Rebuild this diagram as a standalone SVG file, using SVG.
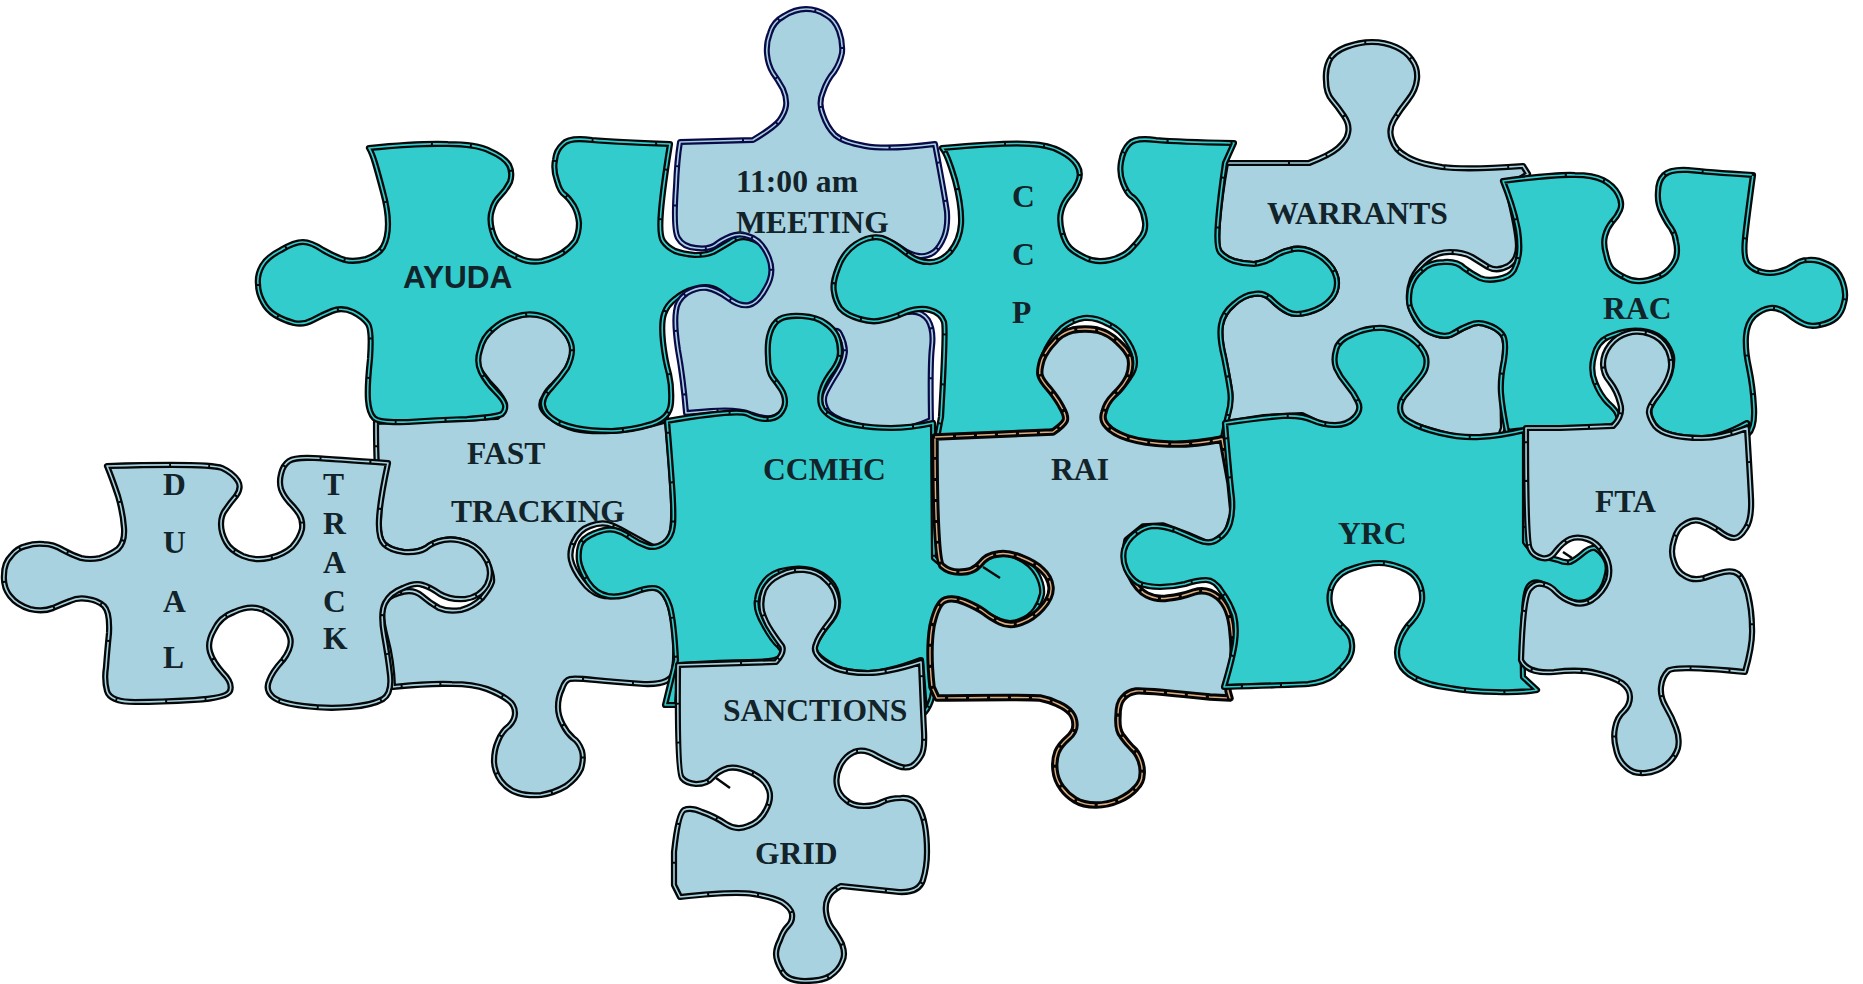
<svg xmlns="http://www.w3.org/2000/svg" width="1863" height="984" viewBox="0 0 1863 984">
<style>
  .shape{stroke-linejoin:round;stroke-linecap:butt}
  .body{stroke:#050808;stroke-width:6.2}
  .core{fill:none;stroke-width:1.6;stroke-dasharray:62 2 37 2 48 2}
  .sky .body{fill:#a8d2e0}
  .sky .core{stroke:#a8d2e0}
  .aqua .body{fill:#33cccc}
  .aqua .core{stroke:#33cccc}
  .navy .body{stroke:#0a0a48;stroke-width:6}
  .tan .body{stroke:#050505;stroke-width:7.4}
  .tan .core{stroke:#dcae80;stroke-width:1.4;stroke-dasharray:18 3}
  .label{font:bold 31.6px "Liberation Serif","Times New Roman",serif;fill:#12232a}
  .sans{font:bold 31.6px "Liberation Sans",Arial,sans-serif}
  .stray{fill:none;stroke:#050808;stroke-width:2.4}
</style>
<defs>
  <path id="shape-fast" d="M376 422L497 417Q506 410 505 404Q503 398 496 390Q488 382 481 372Q474 362 476 356Q478 350 484 338Q490 327 497 323Q503 319 515 316Q526 312 537 314Q547 315 555 322Q563 328 569 338Q574 347 572 355Q570 363 566 370Q561 377 554 384Q547 390 544 397Q540 403 542 408Q544 413 553 419Q561 425 575 429Q588 432 611 431Q633 430 667 420Q672 475 673 502Q674 528 670 537Q665 545 660 547Q655 549 647 544Q638 539 627 533Q615 526 608 524Q600 522 590 526Q579 530 574 541Q569 551 571 560Q573 569 582 581Q590 592 600 595Q609 598 620 595Q630 592 641 589Q651 586 658 589Q665 592 670 607Q674 622 675 639Q676 656 674 671Q672 685 644 684Q615 682 595 680Q575 678 570 679Q565 680 562 689Q558 697 558 707Q558 716 563 725Q567 733 573 738Q579 742 582 751Q584 759 581 769Q577 778 566 786Q554 793 541 795Q527 796 518 793Q508 790 501 781Q494 771 494 761Q494 750 498 741Q502 731 509 726Q515 720 515 713Q515 705 508 700Q500 694 487 689Q473 684 452 684Q431 683 393 687Q392 660 386 638Q380 615 383 606Q385 597 399 593Q413 588 422 596Q430 603 439 608Q448 612 461 610Q473 607 482 598Q490 588 492 582Q493 575 487 562Q480 548 468 543Q455 538 444 540Q433 542 426 548Q418 553 404 552Q390 550 384 544Q378 538 379 519Q380 500 378 482Q376 463 376 422Z"/>
  <path id="shape-dual" d="M107 466Q210 463 222 468Q233 473 238 481Q242 488 236 496Q230 503 226 509Q221 515 221 524Q221 533 226 542Q230 550 243 556Q255 561 269 558Q283 555 292 547Q300 538 302 529Q303 520 299 514Q295 508 289 502Q283 495 281 489Q279 482 281 474Q283 465 289 461Q295 457 314 458Q333 459 388 463Q380 500 379 519Q378 538 384 544Q390 550 404 552Q418 553 426 548Q433 542 444 540Q455 538 468 543Q480 548 487 561Q493 573 487 585Q480 597 465 599Q450 600 440 594Q430 587 423 585Q415 582 403 588Q390 593 385 603Q380 613 384 635Q388 657 390 675Q392 693 383 699Q373 705 350 707Q327 709 304 706Q280 703 273 697Q265 690 269 681Q272 672 283 660Q293 647 290 637Q287 627 277 619Q267 610 257 608Q247 606 234 612Q220 617 214 630Q207 642 210 652Q213 662 223 673Q233 683 230 691Q227 698 194 700Q160 702 135 702Q110 702 107 691Q104 680 106 667Q107 653 109 633Q110 612 104 606Q97 600 88 599Q78 597 70 601Q62 604 53 608Q43 612 30 609Q17 605 10 596Q3 587 4 575Q4 563 11 556Q17 548 26 546Q35 543 44 544Q53 544 63 550Q72 555 81 558Q90 560 100 558Q110 555 118 549Q125 542 124 528Q123 513 118 496Q112 478 107 466Z"/>
  <path id="shape-ayuda" d="M369 148Q419 143 448 144Q476 144 490 151Q504 157 509 165Q513 173 510 182Q506 190 500 196Q494 202 492 210Q489 218 492 230Q495 242 502 248Q508 253 519 258Q529 263 542 261Q554 258 562 253Q570 248 575 241Q579 233 579 223Q578 213 574 206Q569 198 565 195Q560 192 557 181Q553 170 555 160Q556 150 563 144Q569 137 592 140Q615 142 670 144Q663 187 661 211Q659 235 663 241Q667 247 675 251Q683 254 695 255Q706 255 713 252Q720 248 730 242Q740 235 749 238Q758 240 765 247Q772 253 774 263Q776 273 773 283Q769 293 760 300Q751 307 743 306Q735 305 727 298Q719 290 712 288Q704 286 694 289Q683 292 675 299Q667 305 664 314Q661 323 663 342Q665 360 669 374Q672 387 671 403Q670 418 652 424Q633 430 612 431Q590 431 576 428Q561 425 553 419Q544 413 543 405Q542 397 552 387Q561 377 567 368Q572 358 572 350Q572 343 567 335Q561 327 554 322Q547 317 537 315Q526 313 515 317Q503 320 493 329Q483 337 480 350Q476 362 481 372Q486 382 495 391Q504 400 505 405Q506 410 502 414Q497 417 467 419Q436 420 408 422Q379 423 374 418Q369 413 368 400Q367 387 370 359Q372 330 368 324Q363 317 353 312Q342 307 332 311Q322 315 313 320Q304 325 294 323Q283 320 275 315Q267 310 263 302Q258 293 258 284Q257 275 262 266Q267 257 281 250Q294 242 303 242Q311 242 323 250Q335 257 345 260Q354 262 366 259Q378 255 383 247Q388 238 388 224Q388 210 383 192Q378 173 375 163Q372 153 369 148Z"/>
  <path id="shape-meeting" d="M680 142L753 140Q773 128 779 121Q785 113 786 106Q787 98 783 89Q778 80 773 73Q768 65 767 54Q766 43 770 33Q773 22 784 16Q795 9 806 9Q817 9 826 15Q835 20 839 31Q843 42 842 53Q840 63 834 72Q827 80 823 92Q818 103 823 115Q827 127 835 135Q843 142 865 146Q887 150 935 144Q945 197 947 212Q948 227 944 237Q940 247 934 252Q927 257 919 256Q910 255 902 249Q893 242 883 239Q873 235 860 243Q847 250 841 262Q835 273 838 287Q840 300 848 307Q855 313 866 317Q877 320 886 317Q895 313 908 312Q921 310 928 320Q934 330 932 347Q930 363 931 420Q910 430 890 430Q871 430 850 423Q829 417 826 408Q822 400 826 392Q830 384 837 373Q844 362 845 352Q845 343 840 334Q836 325 818 342L800 360L787 406Q779 417 771 418Q764 419 750 414Q737 409 711 411L686 413Q683 377 678 350Q674 323 676 311Q677 300 687 293Q697 287 707 288Q717 290 728 298Q740 307 749 305Q758 303 766 288Q775 273 769 258Q763 243 753 238Q743 233 735 235Q727 237 718 243Q710 250 696 248Q683 247 678 238Q673 230 676 186Q677 160 680 142Z"/>
  <path id="shape-ccmhc" d="M667 421Q737 409 748 414Q758 419 766 419Q775 419 780 414Q785 408 785 402Q785 395 781 389Q777 383 773 378Q768 372 768 357Q767 342 770 333Q773 323 780 319Q787 315 802 316Q817 317 825 323Q833 328 837 336Q840 343 840 352Q840 360 833 370Q825 380 822 389Q819 397 821 405Q823 412 832 417Q840 422 856 425Q872 428 891 428Q910 428 933 423L934 558Q950 572 962 572Q973 572 980 564Q987 555 998 554Q1008 552 1019 558Q1030 563 1037 574Q1043 585 1042 594Q1040 603 1035 610Q1030 617 1020 621Q1010 625 1000 621Q990 617 984 612Q977 607 965 602Q953 597 945 600Q937 603 935 625Q932 647 934 674Q935 700 925 712L921 660Q887 673 868 673Q848 673 835 667Q822 660 817 654Q812 648 818 639Q823 630 831 621Q839 611 838 600Q837 588 830 581Q822 573 811 570Q799 567 786 570Q772 572 765 581Q758 590 757 600Q755 610 764 625Q772 640 779 646Q785 652 781 657Q776 662 749 662Q722 662 680 665L677 705L665 705L676 660Q674 622 670 607Q665 592 658 589Q651 586 635 592Q619 598 608 596Q596 594 588 582Q580 569 579 561Q578 553 580 546Q582 538 595 533Q607 528 615 530Q623 532 631 538Q638 543 647 546Q655 549 664 543Q672 537 673 525Q674 513 672 485Q670 456 667 421Z"/>
  <path id="shape-warrants" d="M1226 163L1309 163Q1330 155 1338 148Q1347 140 1348 133Q1350 125 1344 116Q1338 107 1332 100Q1326 93 1326 81Q1325 70 1329 61Q1333 52 1346 47Q1359 42 1372 42Q1385 42 1396 47Q1407 52 1412 60Q1418 68 1417 79Q1416 90 1408 100Q1400 110 1394 120Q1388 130 1392 140Q1395 150 1406 156Q1416 163 1442 167Q1467 170 1523 166L1528 174L1507 187Q1518 232 1518 246Q1518 260 1508 266Q1497 272 1488 267Q1480 262 1472 257Q1463 252 1450 252Q1437 252 1427 260Q1417 268 1412 279Q1408 290 1409 300Q1410 309 1416 320Q1423 330 1435 334Q1447 338 1454 333Q1462 328 1470 325Q1478 321 1488 325Q1497 328 1502 334Q1507 340 1504 362Q1502 383 1503 428L1500 436L1460 438Q1420 428 1410 423L1400 417L1400 400L1362 410L1347 425L1323 425L1302 415L1264 417L1225 423Q1232 403 1230 390Q1228 377 1224 357Q1219 337 1221 325Q1223 313 1234 304Q1244 295 1254 294Q1264 292 1272 300Q1280 308 1288 312Q1295 316 1309 312Q1323 308 1330 300Q1337 293 1337 283Q1337 273 1329 264Q1321 255 1310 251Q1299 247 1290 250Q1280 252 1272 258Q1264 263 1254 264Q1244 264 1234 261Q1225 258 1220 252Q1216 247 1218 222Q1220 197 1226 163Z"/>
  <path id="shape-rac" d="M1503 181Q1557 174 1575 175Q1593 175 1603 180Q1613 185 1618 194Q1623 203 1620 210Q1617 217 1612 222Q1607 228 1605 236Q1603 244 1606 254Q1608 264 1612 269Q1617 274 1626 278Q1635 283 1648 280Q1660 277 1666 272Q1673 266 1676 258Q1678 250 1676 242Q1675 234 1671 228Q1667 223 1662 213Q1657 203 1658 192Q1658 181 1664 175Q1670 169 1688 170Q1707 172 1753 175Q1747 219 1745 238Q1743 258 1748 264Q1753 270 1762 272Q1770 274 1778 272Q1787 270 1794 265Q1800 260 1808 260Q1817 259 1827 264Q1837 268 1842 280Q1847 293 1844 303Q1842 313 1836 318Q1830 323 1820 325Q1810 327 1804 324Q1797 321 1788 314Q1778 307 1770 308Q1762 309 1754 316Q1747 323 1746 336Q1745 350 1749 368Q1753 387 1754 408Q1755 428 1748 434L1747 423Q1720 438 1702 438Q1683 438 1672 435Q1660 432 1654 424Q1648 415 1650 408Q1653 401 1660 392Q1667 383 1670 374Q1673 364 1672 356Q1670 348 1664 341Q1657 334 1648 332Q1638 330 1629 331Q1620 332 1608 337Q1597 342 1594 356Q1590 370 1595 382Q1600 395 1608 403Q1617 411 1618 416Q1620 421 1616 424Q1613 427 1586 428Q1560 428 1542 429Q1525 430 1507 432Q1502 407 1501 393Q1500 379 1504 360Q1507 340 1502 334Q1497 328 1488 325Q1478 321 1470 325Q1462 328 1454 333Q1447 338 1435 334Q1423 330 1418 322Q1412 313 1410 307Q1408 301 1410 289Q1413 277 1422 270Q1430 262 1444 262Q1457 261 1464 268Q1472 274 1480 278Q1487 281 1498 279Q1510 277 1514 270Q1518 262 1519 253Q1520 244 1518 230Q1515 215 1511 203Q1507 191 1503 181Z"/>
  <path id="shape-ccp" d="M942 148Q1010 142 1030 144Q1049 145 1060 151Q1072 157 1077 165Q1082 173 1078 182Q1075 190 1069 196Q1063 203 1061 212Q1059 220 1062 232Q1065 243 1070 248Q1075 253 1086 258Q1096 263 1110 260Q1123 257 1130 250Q1137 243 1142 236Q1146 230 1145 222Q1144 213 1140 206Q1135 198 1131 196Q1127 193 1123 183Q1119 173 1121 162Q1123 150 1129 144Q1135 137 1156 140Q1178 142 1234 143L1225 163Q1220 197 1218 222Q1216 247 1220 252Q1225 258 1234 261Q1244 264 1254 264Q1264 263 1272 258Q1280 252 1290 250Q1299 247 1310 251Q1321 255 1329 264Q1337 273 1337 283Q1337 293 1330 300Q1323 308 1309 312Q1295 316 1288 312Q1280 308 1272 300Q1264 292 1254 294Q1244 295 1234 304Q1223 313 1221 325Q1219 337 1224 357Q1228 377 1230 390Q1232 403 1228 415Q1225 427 1223 438Q1195 447 1174 446Q1154 445 1138 442Q1123 438 1112 430Q1102 423 1102 415Q1101 407 1112 397Q1123 387 1129 378Q1135 370 1135 362Q1135 353 1128 342Q1121 330 1108 324Q1096 317 1084 318Q1072 320 1062 328Q1053 337 1047 348Q1041 360 1041 370Q1041 380 1050 390Q1058 400 1063 408Q1068 417 1063 425Q1058 433 1032 434Q1006 435 937 438L941 417Q946 330 944 322Q941 313 930 310Q920 307 906 312Q893 318 883 320Q873 323 860 319Q846 315 840 308Q835 300 834 292Q832 283 838 268Q843 253 856 244Q870 235 882 238Q893 242 905 252Q917 262 928 262Q940 263 950 252Q960 240 961 224Q962 207 955 180Q947 153 942 148Z"/>
  <path id="shape-rai" d="M935 437L1053 432Q1063 425 1065 421Q1067 417 1062 408Q1058 400 1050 390Q1041 380 1040 375Q1039 370 1042 360Q1046 350 1054 342Q1061 333 1073 330Q1085 328 1097 330Q1109 333 1118 342Q1127 350 1130 358Q1132 367 1128 377Q1123 387 1114 395Q1106 403 1104 412Q1101 420 1107 426Q1113 433 1128 438Q1144 443 1168 444Q1192 445 1222 439L1230 483L1233 513L1227 533L1210 545L1187 535L1163 526L1143 527L1127 540Q1122 560 1130 575Q1137 590 1147 595Q1157 600 1168 598Q1180 597 1194 592Q1207 588 1218 597Q1230 607 1232 632Q1235 657 1230 671Q1225 685 1230 698L1210 697Q1143 690 1136 691Q1128 692 1123 698Q1118 703 1118 716Q1117 730 1122 736Q1127 743 1132 748Q1137 752 1140 760Q1143 768 1142 775Q1142 782 1136 788Q1130 795 1119 800Q1108 805 1096 805Q1083 805 1075 800Q1067 795 1062 788Q1056 780 1055 770Q1054 760 1057 752Q1060 745 1068 738Q1075 732 1075 725Q1075 718 1071 713Q1067 708 1058 704Q1050 700 1040 698Q1030 697 937 698L932 687Q928 650 932 626Q937 603 945 600Q953 597 965 602Q977 607 984 612Q990 617 1000 622Q1010 627 1022 622Q1033 618 1042 608Q1052 597 1051 587Q1050 577 1042 570Q1035 563 1022 558Q1008 552 998 554Q987 555 980 564Q973 572 962 572Q950 573 942 566Q935 560 935 437Z"/>
  <path id="shape-yrc" d="M1225 423Q1264 417 1283 416Q1302 415 1312 420Q1323 425 1335 425Q1347 425 1354 418Q1362 410 1358 402Q1354 393 1347 385Q1340 377 1336 368Q1333 360 1336 350Q1338 340 1353 334Q1368 327 1384 328Q1399 330 1411 338Q1423 347 1426 357Q1428 367 1422 375Q1416 383 1408 392Q1400 400 1400 408Q1400 417 1410 422Q1420 428 1440 433Q1460 438 1480 437Q1500 436 1525 430L1525 542Q1533 554 1542 556Q1550 558 1558 560Q1565 563 1570 562Q1575 560 1582 554Q1590 547 1595 548Q1600 550 1605 558Q1610 566 1606 578Q1603 591 1593 598Q1583 605 1573 602Q1563 599 1555 592Q1547 585 1540 583Q1533 581 1529 586Q1525 591 1524 612Q1522 632 1523 677L1537 690Q1520 693 1496 692Q1473 692 1450 688Q1427 685 1415 678Q1403 672 1399 662Q1395 653 1399 642Q1403 630 1412 621Q1420 612 1422 601Q1423 590 1418 581Q1413 572 1402 568Q1390 563 1379 563Q1368 563 1354 568Q1340 572 1334 582Q1328 592 1330 604Q1332 617 1342 626Q1352 635 1352 644Q1353 652 1348 660Q1342 668 1334 675Q1325 682 1308 684Q1290 685 1224 687Q1233 657 1235 642Q1237 627 1234 615Q1230 603 1222 592Q1215 580 1206 580Q1197 580 1185 584Q1173 587 1160 587Q1147 587 1138 583Q1130 578 1126 569Q1122 560 1124 550Q1127 540 1135 534Q1143 527 1153 526Q1163 526 1175 530Q1187 535 1198 540Q1210 545 1218 539Q1227 533 1230 523Q1233 513 1232 498Q1230 483 1225 423Z"/>
  <path id="shape-fta" d="M1526 428L1560 428L1613 426Q1624 415 1620 403Q1617 391 1610 382Q1603 374 1603 364Q1603 354 1610 345Q1617 336 1628 333Q1638 330 1650 334Q1662 338 1668 350Q1673 362 1670 372Q1667 383 1658 395Q1648 407 1649 413Q1650 419 1655 426Q1660 432 1672 435Q1683 438 1702 438Q1720 438 1747 428Q1750 477 1751 498Q1752 519 1746 528Q1740 538 1734 538Q1728 538 1718 530Q1707 523 1700 521Q1693 519 1685 524Q1677 528 1674 540Q1670 552 1674 562Q1677 572 1685 576Q1693 581 1704 578Q1715 574 1724 572Q1733 570 1738 574Q1743 577 1748 594Q1752 611 1752 628Q1753 644 1745 672Q1673 665 1668 671Q1662 677 1661 687Q1660 697 1666 707Q1672 717 1676 728Q1680 738 1678 748Q1675 758 1666 765Q1657 772 1645 773Q1633 774 1626 767Q1618 760 1616 749Q1613 738 1615 728Q1617 717 1624 711Q1630 705 1630 697Q1630 689 1622 683Q1613 677 1596 673Q1580 669 1554 672Q1527 674 1521 660Q1523 599 1529 590Q1535 582 1542 584Q1550 585 1556 592Q1563 599 1572 602Q1582 606 1592 600Q1603 593 1608 580Q1612 566 1604 554Q1597 542 1587 539Q1577 536 1570 539Q1563 542 1556 551Q1550 560 1542 558Q1533 556 1530 549Q1526 542 1526 428Z"/>
  <path id="shape-sanctions" d="M678 665L776 662Q785 652 782 646Q778 641 772 632Q765 622 762 611Q760 600 764 590Q768 581 780 575Q791 569 804 570Q818 571 826 580Q835 588 837 600Q839 611 828 624Q818 637 816 644Q813 650 818 656Q822 662 835 668Q848 673 868 673Q887 673 921 662Q923 712 924 731Q925 750 921 756Q917 763 912 766Q906 769 898 766Q890 763 877 756Q864 748 854 752Q845 756 840 766Q835 776 837 786Q839 795 846 800Q852 806 864 806Q875 806 882 802Q890 798 901 798Q912 797 918 806Q923 814 925 826Q927 837 927 852Q927 867 923 880Q919 893 899 892L841 886Q831 891 828 898Q825 904 826 912Q827 921 832 928Q837 934 842 944Q846 955 842 962Q839 970 830 976Q822 981 805 981Q787 981 782 971Q776 961 776 954Q776 948 780 940Q783 931 788 926Q793 921 792 914Q791 908 782 902Q772 897 753 894Q734 891 680 897L674 885L674 852Q678 814 684 810Q691 807 702 812Q714 816 726 824Q737 831 748 826Q760 822 766 810Q772 799 769 790Q766 780 752 773Q737 766 728 768Q718 771 712 778Q707 784 696 784Q686 783 682 778Q677 773 678 665Z"/>
</defs>

<!-- Puzzle pieces, lowest layer first -->
<g id="fast-tracking" class="sky">
  <use href="#shape-fast" class="shape body"/><use href="#shape-fast" class="shape core"/>
  <text class="label" x="467" y="464">FAST</text>
  <text class="label" x="451" y="522">TRACKING</text>
</g>
<g id="dual-track" class="sky">
  <use href="#shape-dual" class="shape body"/><use href="#shape-dual" class="shape core"/>
  <text class="label" x="163" y="495">D</text>
  <text class="label" x="163" y="553">U</text>
  <text class="label" x="163" y="612">A</text>
  <text class="label" x="163" y="668">L</text>
  <text class="label" x="323" y="495">T</text>
  <text class="label" x="323" y="534">R</text>
  <text class="label" x="323" y="573">A</text>
  <text class="label" x="323" y="612">C</text>
  <text class="label" x="323" y="649">K</text>
</g>
<g id="ayuda" class="aqua">
  <use href="#shape-ayuda" class="shape body"/><use href="#shape-ayuda" class="shape core"/>
  <text class="label sans" x="403" y="288">AYUDA</text>
</g>
<g id="meeting" class="sky navy">
  <use href="#shape-meeting" class="shape body"/><use href="#shape-meeting" class="shape core"/>
  <text class="label" x="736" y="192">11:00 am</text>
  <text class="label" x="736" y="233">MEETING</text>
</g>
<g id="ccmhc" class="aqua">
  <use href="#shape-ccmhc" class="shape body"/><use href="#shape-ccmhc" class="shape core"/>
  <text class="label" x="763" y="480">CCMHC</text>
</g>
<g id="warrants" class="sky">
  <use href="#shape-warrants" class="shape body"/><use href="#shape-warrants" class="shape core"/>
  <text class="label" x="1267" y="224">WARRANTS</text>
</g>
<g id="rac" class="aqua">
  <use href="#shape-rac" class="shape body"/><use href="#shape-rac" class="shape core"/>
  <text class="label" x="1603" y="319">RAC</text>
</g>
<g id="ccp" class="aqua">
  <use href="#shape-ccp" class="shape body"/><use href="#shape-ccp" class="shape core"/>
  <text class="label" x="1012" y="207">C</text>
  <text class="label" x="1012" y="265">C</text>
  <text class="label" x="1012" y="323">P</text>
</g>
<g id="rai" class="sky tan">
  <use href="#shape-rai" class="shape body"/><use href="#shape-rai" class="shape core"/>
  <text class="label" x="1051" y="480">RAI</text>
  <path class="stray" d="M983 567L1000 578"/>
</g>
<g id="yrc" class="aqua">
  <use href="#shape-yrc" class="shape body"/><use href="#shape-yrc" class="shape core"/>
  <text class="label" x="1338" y="544">YRC</text>
</g>
<g id="fta" class="sky">
  <use href="#shape-fta" class="shape body"/><use href="#shape-fta" class="shape core"/>
  <text class="label" x="1595" y="512">FTA</text>
  <path class="stray" d="M1563 552L1572 558"/>
</g>
<g id="sanctions-grid" class="sky">
  <use href="#shape-sanctions" class="shape body"/><use href="#shape-sanctions" class="shape core"/>
  <text class="label" x="723" y="721">SANCTIONS</text>
  <text class="label" x="755" y="864">GRID</text>
  <path class="stray" d="M716 778L730 788"/>
</g>
<g id="connectors"></g>
</svg>
